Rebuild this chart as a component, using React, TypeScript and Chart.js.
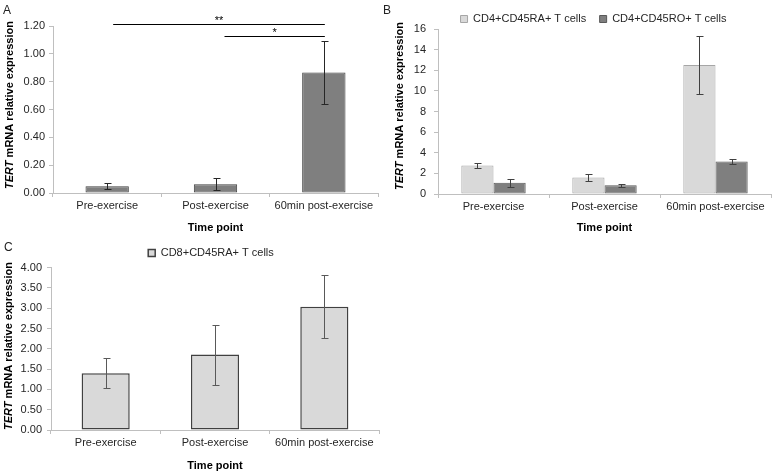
import React, { useEffect, useRef } from "react";
import { Chart, registerables } from "chart.js";

Chart.register(...registerables);

const FONT = "'Liberation Sans', Arial, Helvetica, sans-serif";

// ---- data ----
const categories = ["Pre-exercise", "Post-exercise", "60min post-exercise"];

const aValues = [0.048, 0.062, 0.865];
const aErrors = [0.022, 0.044, 0.225];

const bLabels = ["CD4+CD45RA+ T cells", "CD4+CD45RO+ T cells"];
const bRAValues = [2.77, 1.6, 12.5];
const bRAErrors = [0.28, 0.3, 2.78];
const bROValues = [1.1, 0.84, 3.15];
const bROErrors = [0.38, 0.16, 0.22];

const cLabels = ["CD8+CD45RA+ T cells"];
const cValues = [1.4, 1.86, 3.04];
const cErrors = [0.37, 0.74, 0.77];

const sigFrom = [0, 1];
const sigTo = [2, 2];
const sigLevels = [1.215, 1.13];
const sigMarks = ["**", "*"];

const yTitleItalic = "TERT";
const yTitleRest = " mRNA relative expression";
const xTitle = "Time point";

// ---- plugins ----
const errorBarPlugin = {
  id: "errorBars",
  afterDatasetsDraw(chart: any, _args: any, opts: any) {
    const { ctx } = chart;
    const ys = chart.scales.y;
    (opts.errors || []).forEach((errs: number[] | null, di: number) => {
      if (!errs) return;
      const meta = chart.getDatasetMeta(di);
      const data = chart.data.datasets[di].data as number[];
      meta.data.forEach((bar: any, i: number) => {
        const v = data[i];
        const e = errs[i];
        const x = Math.round(bar.x) + 0.5;
        const yt = Math.round(ys.getPixelForValue(v + e)) + 0.5;
        const yb = Math.round(ys.getPixelForValue(v - e)) + 0.5;
        ctx.save();
        ctx.strokeStyle = opts.color || "#404040";
        ctx.lineWidth = 1;
        ctx.beginPath();
        ctx.moveTo(x, yt);
        ctx.lineTo(x, yb);
        ctx.moveTo(x - 3, yt);
        ctx.lineTo(x + 4, yt);
        ctx.moveTo(x - 3, yb);
        ctx.lineTo(x + 4, yb);
        ctx.stroke();
        ctx.restore();
      });
    });
  },
};

const decorPlugin = {
  id: "decor",
  beforeLayout(chart: any, _args: any, opts: any) {
    const lg = chart.legend;
    if (lg && opts.legendHeight != null && !lg.__patched) {
      const orig = lg.fit;
      const h = opts.legendHeight;
      lg.fit = function () {
        orig.call(this);
        this.height = h;
      };
      lg.__patched = true;
    }
  },
  afterLayout(chart: any, _args: any, opts: any) {
    const lg = chart.legend;
    if (lg && opts.legendCenterX != null) {
      const dx = opts.legendCenterX - (lg.left + lg.right) / 2;
      lg.left += dx;
      lg.right += dx;
    }
  },
  afterDraw(chart: any, _args: any, opts: any) {
    const { ctx } = chart;
    ctx.save();
    if (opts.letter) {
      ctx.font = `12px ${FONT}`;
      ctx.fillStyle = "#222";
      ctx.textAlign = "left";
      ctx.textBaseline = "middle";
      ctx.fillText(opts.letter, opts.letterX, opts.letterY);
    }
    const fi = `italic bold 11px ${FONT}`;
    const fb = `bold 11px ${FONT}`;
    ctx.font = fi;
    const w1 = ctx.measureText(yTitleItalic).width;
    ctx.font = fb;
    const w2 = ctx.measureText(yTitleRest).width;
    ctx.translate(opts.yTitleX, opts.yTitleY);
    ctx.rotate(-Math.PI / 2);
    ctx.fillStyle = "#000";
    ctx.textAlign = "left";
    ctx.textBaseline = "middle";
    const sx = -(w1 + w2) / 2;
    ctx.font = fi;
    ctx.fillText(yTitleItalic, sx, 0);
    ctx.font = fb;
    ctx.fillText(yTitleRest, sx + w1, 0);
    ctx.restore();
  },
};

const sigPlugin = {
  id: "sig",
  afterDraw(chart: any, _args: any, opts: any) {
    if (!opts.show) return;
    const { ctx } = chart;
    const xs = chart.scales.x;
    const ys = chart.scales.y;
    ctx.save();
    sigLevels.forEach((lvl, k) => {
      const x1 = xs.getPixelForValue(sigFrom[k]) + (k === 0 ? 6 : 9);
      const x2 = xs.getPixelForValue(sigTo[k]) + 1;
      const y = Math.round(ys.getPixelForValue(lvl)) + 0.5;
      ctx.strokeStyle = "#000";
      ctx.lineWidth = 1;
      ctx.beginPath();
      ctx.moveTo(x1, y);
      ctx.lineTo(x2, y);
      ctx.stroke();
      ctx.fillStyle = "#000";
      ctx.font = `11px ${FONT}`;
      ctx.textAlign = "center";
      ctx.textBaseline = "alphabetic";
      ctx.fillText(sigMarks[k], (x1 + x2) / 2, y - 1);
    });
    ctx.restore();
  },
};

// ---- helpers ----
const AXIS = "#bfbfbf";
const TICK = "#262626";

function makeScales(opts: {
  max: number;
  step: number;
  decimals: number;
  yWidth: number;
  xHeight: number;
  yPad: number;
}) {
  return {
    x: {
      type: "category" as const,
      offset: true,
      grid: {
        display: true,
        offset: true,
        drawOnChartArea: false,
        drawTicks: true,
        tickLength: 4,
        color: AXIS,
      },
      border: { display: true, color: AXIS, width: 1 },
      ticks: {
        color: TICK,
        font: { family: FONT, size: 11 },
        padding: 2,
        maxRotation: 0,
        autoSkip: false,
      },
      title: {
        display: true,
        text: xTitle,
        color: "#000",
        font: { family: FONT, size: 11, weight: "bold" as const },
        padding: 0,
      },
      afterFit(scale: any) {
        scale.height = opts.xHeight;
      },
    },
    y: {
      min: 0,
      max: opts.max,
      grid: {
        display: true,
        drawOnChartArea: false,
        drawTicks: true,
        tickLength: 4,
        color: AXIS,
      },
      border: { display: true, color: AXIS, width: 1 },
      ticks: {
        stepSize: opts.step,
        color: TICK,
        font: { family: FONT, size: 11 },
        padding: opts.yPad,
        callback: (v: any) => Number(v).toFixed(opts.decimals),
      },
      afterFit(scale: any) {
        scale.width = opts.yWidth;
      },
    },
  };
}

export default function App() {
  const refA = useRef<HTMLCanvasElement>(null);
  const refB = useRef<HTMLCanvasElement>(null);
  const refC = useRef<HTMLCanvasElement>(null);

  useEffect(() => {
    Chart.defaults.font.family = FONT;
    const charts: Chart[] = [];

    charts.push(
      new Chart(refA.current!, {
        type: "bar",
        data: {
          labels: categories,
          datasets: [
            {
              label: "TERT",
              data: aValues,
              backgroundColor: "#7f7f7f",
              borderColor: "#404040",
              borderWidth: 1,
              borderSkipped: false,
              categoryPercentage: 1,
              barPercentage: 0.4,
            },
          ],
        },
        options: {
          responsive: false,
          animation: false,
          events: [],
          layout: { padding: { left: 0, top: 26, right: 7, bottom: 5.4 } },
          plugins: {
            legend: { display: false },
            tooltip: { enabled: false },
            errorBars: { errors: [aErrors], color: "#262626" },
            decor: { letter: "A", letterX: 3, letterY: 11, yTitleX: 10, yTitleY: 105 },
            sig: { show: true },
          } as any,
          scales: makeScales({ max: 1.2, step: 0.2, decimals: 2, yWidth: 53, xHeight: 41.6, yPad: 4 }) as any,
        },
        plugins: [errorBarPlugin, decorPlugin, sigPlugin],
      })
    );

    charts.push(
      new Chart(refB.current!, {
        type: "bar",
        data: {
          labels: categories,
          datasets: [
            {
              label: bLabels[0],
              data: bRAValues,
              backgroundColor: "#d9d9d9",
              borderColor: "#a6a6a6",
              borderWidth: 1,
              borderSkipped: false,
              categoryPercentage: 0.58,
              barPercentage: 1,
            },
            {
              label: bLabels[1],
              data: bROValues,
              backgroundColor: "#7f7f7f",
              borderColor: "#595959",
              borderWidth: 1,
              borderSkipped: false,
              categoryPercentage: 0.58,
              barPercentage: 1,
            },
          ],
        },
        options: {
          responsive: false,
          animation: false,
          events: [],
          layout: { padding: { left: 0, top: 0, right: 4, bottom: 5.4 } },
          plugins: {
            legend: {
              display: true,
              position: "top",
              labels: {
                boxWidth: 7,
                boxHeight: 7,
                padding: 13.5,
                color: TICK,
                font: { family: FONT, size: 11 },
              },
            },
            tooltip: { enabled: false },
            errorBars: { errors: [bRAErrors, bROErrors], color: "#404040" },
            decor: {
              letter: "B",
              letterX: 3,
              letterY: 11,
              yTitleX: 20,
              yTitleY: 106,
              legendHeight: 29,
              legendCenterX: 213.5,
            },
            sig: { show: false },
          } as any,
          scales: makeScales({ max: 16, step: 2, decimals: 0, yWidth: 58, xHeight: 40.6, yPad: 8 }) as any,
        },
        plugins: [errorBarPlugin, decorPlugin, sigPlugin],
      })
    );

    charts.push(
      new Chart(refC.current!, {
        type: "bar",
        data: {
          labels: categories,
          datasets: [
            {
              label: cLabels[0],
              data: cValues,
              backgroundColor: "#d9d9d9",
              borderColor: "#404040",
              borderWidth: 1.5,
              borderSkipped: false,
              categoryPercentage: 1,
              barPercentage: 0.44,
            },
          ],
        },
        options: {
          responsive: false,
          animation: false,
          events: [],
          layout: { padding: { left: 0, top: 0, right: 11, bottom: 2.4 } },
          plugins: {
            legend: {
              display: true,
              position: "top",
              labels: {
                boxWidth: 7,
                boxHeight: 7,
                padding: 12.5,
                color: TICK,
                font: { family: FONT, size: 11 },
              },
            },
            tooltip: { enabled: false },
            errorBars: { errors: [cErrors], color: "#595959" },
            decor: {
              letter: "C",
              letterX: 4,
              letterY: 13,
              yTitleX: 9,
              yTitleY: 111,
              legendHeight: 32.7,
              legendCenterX: 211,
            },
            sig: { show: false },
          } as any,
          scales: makeScales({ max: 4, step: 0.5, decimals: 2, yWidth: 51, xHeight: 42.6, yPad: 5 }) as any,
        },
        plugins: [errorBarPlugin, decorPlugin, sigPlugin],
      })
    );

    return () => charts.forEach((c) => c.destroy());
  }, []);

  const abs = (left: number, top: number, w: number, h: number): React.CSSProperties => ({
    position: "absolute",
    left,
    top,
    width: w,
    height: h,
    display: "block",
  });

  return (
    <div
      style={{
        position: "fixed",
        left: 0,
        top: 0,
        width: 775,
        height: 475,
        background: "#fff",
        overflow: "hidden",
      }}
    >
      <canvas ref={refA} width={385} height={240} style={abs(0, 0, 385, 240)} />
      <canvas ref={refB} width={395} height={240} style={abs(380, 0, 395, 240)} />
      <canvas ref={refC} width={390} height={240} style={abs(0, 235, 390, 240)} />
    </div>
  );
}
